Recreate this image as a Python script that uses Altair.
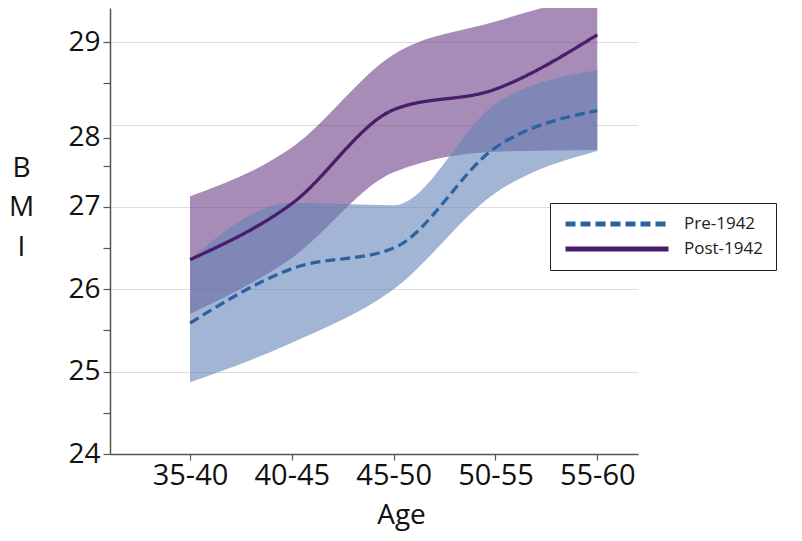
import json
import altair as alt
import pandas as pd

ages = ["35-40", "40-45", "45-50", "50-55", "55-60"]
groups = ["Pre-1942", "Post-1942"]

pre_mean = [25.59, 26.25, 26.50, 27.72, 28.17]
pre_lo = [24.87, 25.35, 26.00, 27.17, 27.68]
pre_hi = [26.36, 27.05, 27.02, 28.25, 28.66]

post_mean = [26.36, 27.04, 28.18, 28.43, 29.09]
post_lo = [25.70, 26.38, 27.42, 27.67, 27.69]
post_hi = [27.13, 27.72, 28.85, 29.25, 29.60]

# tick positions as printed on the reference axis (its "28" label sits slightly below the 28 gridline)
y_ticks = [24, 24.5, 25, 25.5, 26, 26.5, 27, 27.5, 27.84, 28, 28.5, 29]
y_tick_labels = {24: "24", 25: "25", 26: "26", 27: "27", 27.84: "28", 29: "29"}

rows = []
for g, m, lo, hi in [("Pre-1942", pre_mean, pre_lo, pre_hi),
                     ("Post-1942", post_mean, post_lo, post_hi)]:
    for i, a in enumerate(ages):
        rows.append({"idx": i, "age": a, "group": g,
                     "mean": m[i], "lo": lo[i], "hi": hi[i]})
df = pd.DataFrame(rows)

FONT = "Open Sans"
x_label_expr = json.dumps(ages) + "[datum.value]"
y_label_expr = " : ".join(
    f"datum.value === {v} ? '{t}'" for v, t in y_tick_labels.items()
) + " : ''"

x_enc = alt.X(
    "idx:Q",
    scale=alt.Scale(domain=[-0.786, 4.40], nice=False, zero=False),
    axis=alt.Axis(
        values=list(range(len(ages))), labelExpr=x_label_expr, grid=False,
        title="Age", titleX=291, titleY=69, titleBaseline="alphabetic",
        titleAlign="center", titleFontSize=28, titleFontWeight="normal",
        titleFont=FONT, titleColor="#111",
        labelFont=FONT, labelFontSize=29, labelColor="#111", labelPadding=1,
        tickSize=6, tickColor="#555", domainColor="#555", domainWidth=1.5,
        tickWidth=1.2,
    ),
)

y_axis = alt.Axis(
    values=y_ticks,
    labelExpr=y_label_expr,
    grid=True, gridColor="#dcdcdc", gridWidth=1,
    gridOpacity={"condition": {"test": "datum.value % 1 === 0 && datum.value > 24", "value": 1}, "value": 0},
    tickOpacity={"condition": {"test": "datum.value === 28", "value": 0}, "value": 1},
    tickSize=7, tickColor="#555", tickWidth=1.2,
    domainColor="#555", domainWidth=1.5,
    labelFont=FONT, labelFontSize=28, labelColor="#111", labelPadding=3,
    title=["B", "M", "I"], titleAngle=0, titleX=-89, titleY=160,
    titleAlign="center", titleBaseline="middle", titleFontSize=28,
    titleFontWeight="normal", titleFont=FONT, titleColor="#111",
    titleLineHeight=39.5,
)
y_scale = alt.Scale(domain=[24, 29.415], nice=False, zero=False)

legend = alt.Legend(
    title=None,
    orient="none", legendX=440, legendY=195,
    symbolType="stroke", symbolSize=10609, symbolStrokeWidth=5,
    clipHeight=16, rowPadding=8, padding=13,
    labelFont=FONT, labelFontSize=17, labelColor="#222", labelOffset=13,
    fillColor="white", strokeColor="#222",
)

post_band = alt.Chart(df).transform_filter(
    alt.datum.group == "Post-1942"
).mark_area(interpolate="monotone", opacity=0.6, clip=True, color="#6b3f85").encode(
    x=x_enc,
    y=alt.Y("lo:Q", scale=y_scale, axis=y_axis),
    y2="hi:Q",
)

pre_band = alt.Chart(df).transform_filter(
    alt.datum.group == "Pre-1942"
).mark_area(interpolate="monotone", opacity=0.6, clip=True, color="#6684b7").encode(
    x=x_enc,
    y=alt.Y("lo:Q", scale=y_scale, axis=y_axis),
    y2="hi:Q",
)

lines = alt.Chart(df).mark_line(interpolate="monotone", strokeWidth=3.3, clip=True).encode(
    x=x_enc,
    y=alt.Y("mean:Q", scale=y_scale, axis=y_axis),
    color=alt.Color(
        "group:N",
        scale=alt.Scale(domain=groups, range=["#2c62a0", "#4a1d6c"]),
        legend=legend,
    ),
    strokeDash=alt.StrokeDash(
        "group:N",
        scale=alt.Scale(domain=groups, range=[[10, 5], [1, 0]]),
        legend=legend,
    ),
)

chart = alt.layer(post_band, pre_band, lines).properties(
    width=528, height=446,
    padding={"left": 0, "top": 0, "right": 0, "bottom": 5},
).configure_view(stroke=None)

chart.save("out.html", embed_options={"renderer": "svg", "actions": False})
